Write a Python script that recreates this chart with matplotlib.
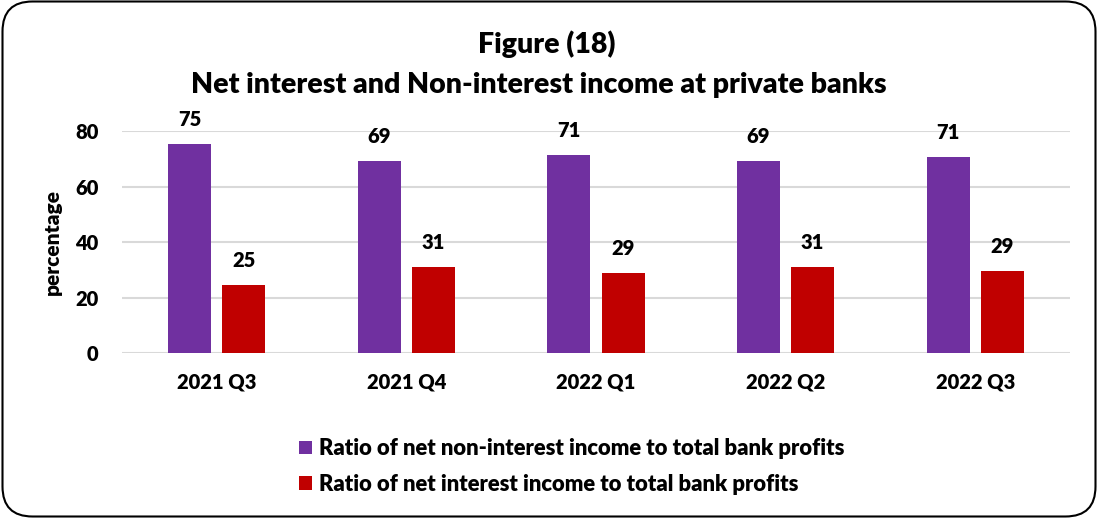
import matplotlib.pyplot as plt
import numpy as np
from matplotlib.patches import FancyBboxPatch

# Data
quarters = ['2021 Q3', '2021 Q4', '2022 Q1', '2022 Q2', '2022 Q3']
non_interest = [75.4, 69.1, 71.2, 69.1, 70.6]
net_interest = [24.6, 30.9, 28.8, 30.9, 29.4]
series_names = ['Ratio of net non-interest income to total bank profits',
                'Ratio of net interest income to total bank profits']
purple = '#7030A0'
red = '#C00000'
wt = 'heavy'

plt.rcParams['font.family'] = ['Lato', 'DejaVu Sans']
plt.rcParams['font.weight'] = wt

fig = plt.figure(figsize=(10.98, 5.18), dpi=100)
ax = fig.add_axes([0.111, 0.3185, 0.8635, 0.4285])

x = np.arange(len(quarters))
w = 0.227
b1 = ax.bar(x - 0.143, non_interest, w, color=purple, label=series_names[0])
b2 = ax.bar(x + 0.143, net_interest, w, color=red, label=series_names[1])

# value labels above bars
for bars, vals in [(b1, non_interest), (b2, net_interest)]:
    for bar, v in zip(bars, vals):
        ax.annotate(f"{v:.0f}", (bar.get_x() + bar.get_width() / 2, v),
                    xytext=(0, 13), textcoords='offset points',
                    ha='center', va='baseline', fontsize=14.5, fontweight=wt,
                    annotation_clip=False)

ax.set_xlim(-0.5, 4.5)
ax.set_ylim(0, 80)
ax.set_yticks([0, 20, 40, 60, 80])
ax.set_xticks(x, quarters)
ax.tick_params(length=0, labelsize=14.5, pad=14)
ax.tick_params(axis='y', pad=17)
for lab in ax.get_xticklabels() + ax.get_yticklabels():
    lab.set_fontweight(wt)
ax.grid(axis='y', color='#D9D9D9', linewidth=1.5)
ax.set_axisbelow(True)
for s in ax.spines.values():
    s.set_visible(False)

fig.text(0.048, 0.533, 'percentage', rotation=90, ha='center', va='center',
         fontsize=15, fontweight=wt)

fig.text(0.498, 0.898, 'Figure (18)', ha='center', va='baseline',
         fontsize=20.5, fontweight=wt)
fig.text(0.491, 0.820, 'Net interest and Non-interest income at private banks',
         ha='center', va='baseline', fontsize=20.5, fontweight=wt)

fig.legend(loc='center left', bbox_to_anchor=(0.2725, 0.099), frameon=False,
           handlelength=0.6, handleheight=0.6, handletextpad=0.3,
           labelspacing=0.68, borderpad=0, borderaxespad=0,
           prop={'weight': wt, 'size': 15.8})

# rounded outer border
frame = FancyBboxPatch((0.025, 0.015), 10.93, 5.15,
                       boxstyle='round,pad=0,rounding_size=0.3',
                       transform=fig.dpi_scale_trans, fill=False,
                       edgecolor='black', linewidth=1.5)
fig.patches.append(frame)

fig.savefig('out.png', dpi=100)
